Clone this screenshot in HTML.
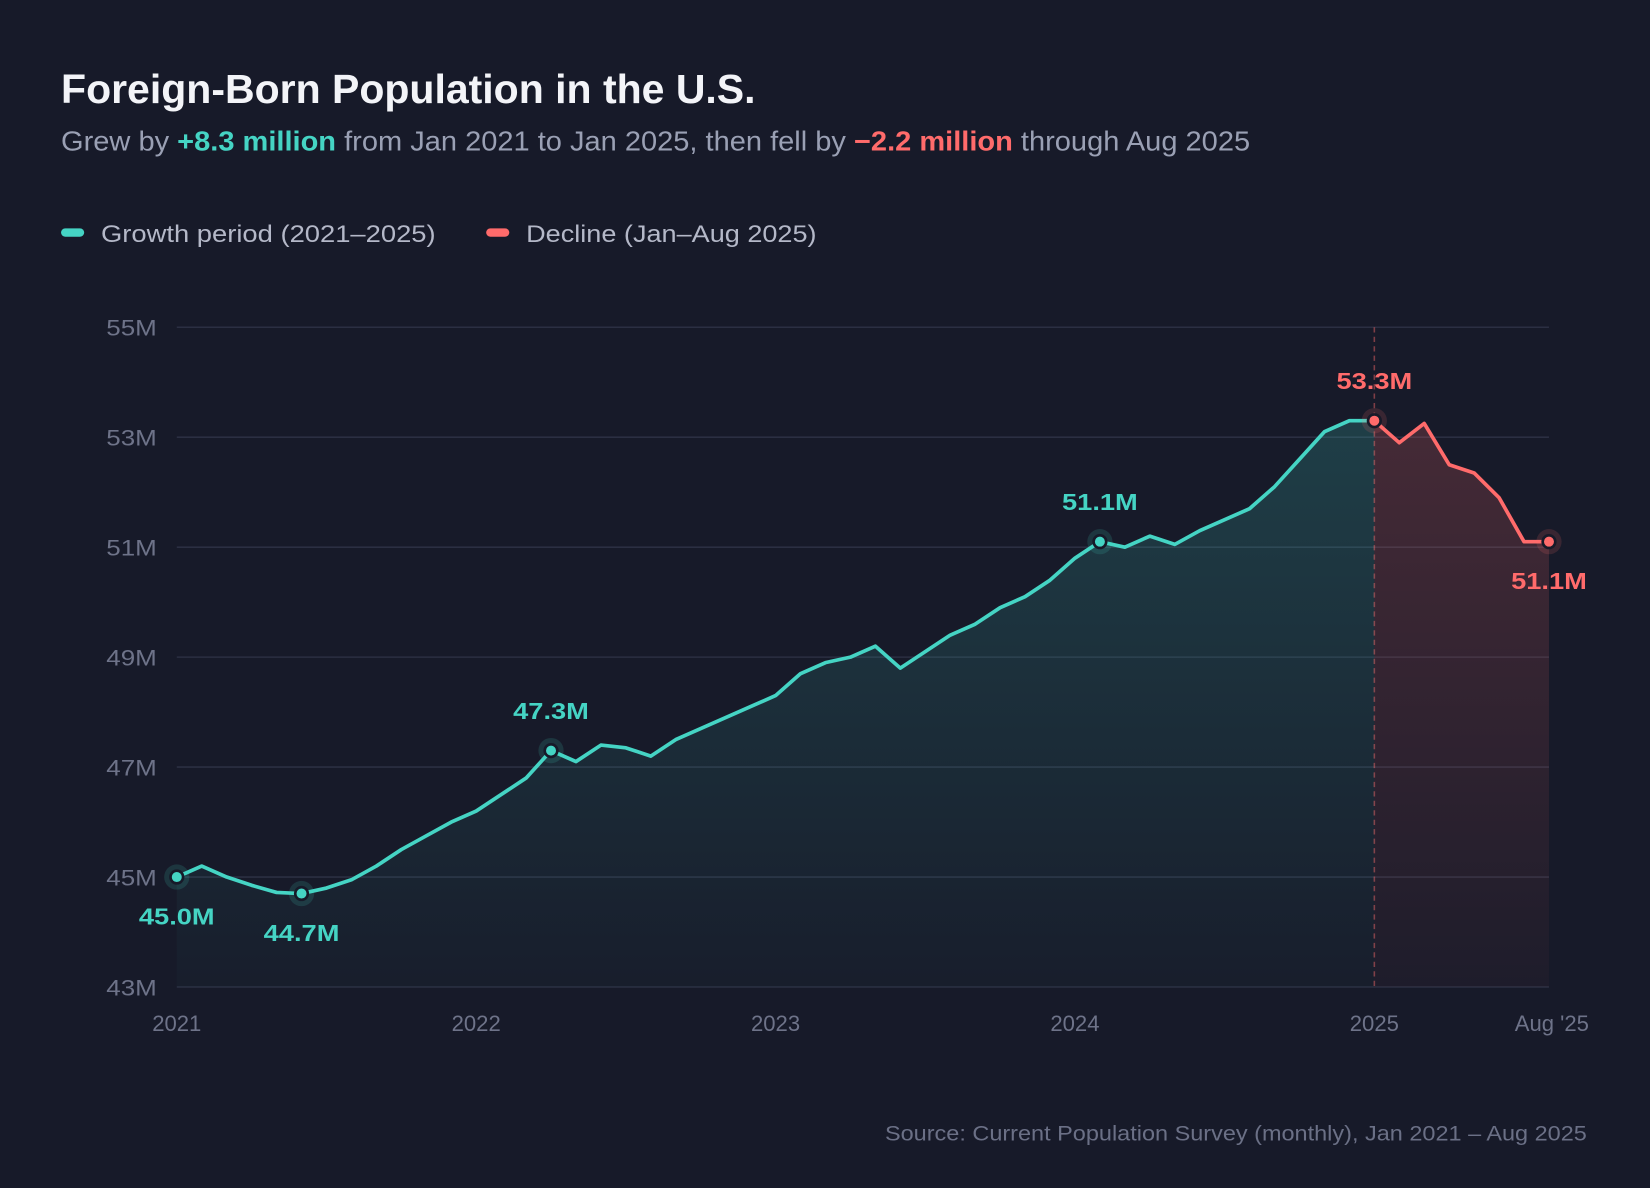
<!DOCTYPE html>
<html><head><meta charset="utf-8">
<style>
html,body{margin:0;padding:0;background:#171a29;}
svg{display:block;font-family:"Liberation Sans",sans-serif;}
</style></head>
<body>
<svg id="chart" width="1650" height="1188" viewBox="0 0 1568 1129" preserveAspectRatio="none">
<defs>
<linearGradient id="gG" x1="0" y1="0" x2="0" y2="1"><stop offset="0" stop-color="#3fd0c0" stop-opacity="0.2"/><stop offset="1" stop-color="#3fd0c0" stop-opacity="0.02"/></linearGradient>
<linearGradient id="gR" x1="0" y1="0" x2="0" y2="1"><stop offset="0" stop-color="#ff6b6b" stop-opacity="0.2"/><stop offset="1" stop-color="#ff6b6b" stop-opacity="0.03"/></linearGradient>
</defs>
<rect width="1568" height="1129" fill="#171a29"/>
<text x="58" y="98" font-size="39" font-weight="bold" fill="#f3f4f8" textLength="660" lengthAdjust="spacingAndGlyphs">Foreign-Born Population in the U.S.</text>
<text x="58" y="143" font-size="26" fill="#9aa0b4" textLength="1130" lengthAdjust="spacingAndGlyphs">Grew by <tspan fill="#45d4c4" font-weight="bold">+8.3 million</tspan> from Jan 2021 to Jan 2025, then fell by <tspan fill="#ff6b6b" font-weight="bold">−2.2 million</tspan> through Aug 2025</text>
<g>
<rect x="58" y="217" width="22" height="8" rx="4" fill="#45d4c4"/>
<text x="96" y="230" font-size="23" fill="#b4b8c8" textLength="318" lengthAdjust="spacingAndGlyphs">Growth period (2021–2025)</text>
<rect x="462" y="217" width="22" height="8" rx="4" fill="#ff6b6b"/>
<text x="500" y="230" font-size="23" fill="#b4b8c8" textLength="276" lengthAdjust="spacingAndGlyphs">Decline (Jan–Aug 2025)</text>
</g>
<g id="grid"></g><g id="areas"></g><g id="lines"></g><g id="marks"></g>
<text x="841" y="1084" font-size="20" fill="#6b7086" textLength="667" lengthAdjust="spacingAndGlyphs">Source: Current Population Survey (monthly), Jan 2021 – Aug 2025</text>
</svg>
<script>
const values=[45.0,45.2,45.0,44.85,44.72,44.7,44.8,44.95,45.2,45.5,45.75,46.0,46.2,46.5,46.8,47.3,47.1,47.4,47.35,47.2,47.5,47.7,47.9,48.1,48.3,48.7,48.9,49.0,49.2,48.8,49.1,49.4,49.6,49.9,50.1,50.4,50.8,51.1,51.0,51.2,51.05,51.3,51.5,51.7,52.1,52.6,53.1,53.3,53.3,52.9,53.25,52.5,52.35,51.9,51.1,51.1];
const splitIndex=48;
const yTicks=[43,45,47,49,51,53,55];
const yTickLabels=["43M","45M","47M","49M","51M","53M","55M"];
const xTickMonths=[0,12,24,36,48,55];
const xTickLabels=["2021","2022","2023","2024","2025","Aug '25"];
const annotated=[0,5,15,37,48,55];
const annotLabels=["45.0M","44.7M","47.3M","51.1M","53.3M","51.1M"];
const annotBelow=[true,true,false,false,false,true];

const X0=168,X1=1472,Y0=938,Y1=311;
const x=i=>X0+(X1-X0)*i/55;
const y=v=>Y0-(v-43)/(55-43)*(Y0-Y1);
const NS="http://www.w3.org/2000/svg";
function mk(tag,attrs,parent,txt){const e=document.createElementNS(NS,tag);for(const k in attrs)e.setAttribute(k,attrs[k]);if(txt!=null)e.textContent=txt;parent.appendChild(e);return e;}
const grid=document.getElementById('grid'),areas=document.getElementById('areas'),lines=document.getElementById('lines'),marks=document.getElementById('marks');
yTicks.forEach((t,k)=>{
 const l=mk('line',{x1:X0,x2:X1,y1:y(t),y2:y(t),stroke:"#2b2f42","stroke-width":1.5},grid);
 
 
 const tx=mk('text',{x:149,y:y(t)+8,"font-size":21,fill:"#6e7389","text-anchor":"end",textLength:48,lengthAdjust:"spacingAndGlyphs"},grid,yTickLabels[k]);
 
 
});
xTickMonths.forEach((m,k)=>{
 const last=k===xTickMonths.length-1;
 const tx=mk('text',{x:last?x(m)+38:x(m),y:980,"font-size":21,fill:"#6e7389","text-anchor":last?"end":"middle"},grid,xTickLabels[k]);
 
 
});
const vl=mk('line',{x1:x(splitIndex),x2:x(splitIndex),y1:Y1,y2:Y0,stroke:"#ff6b6b","stroke-opacity":0.45,"stroke-width":1.5,"stroke-dasharray":"5,4"},grid);


function pts(a,b){let s=[];for(let i=a;i<=b;i++)s.push(x(i)+","+y(values[i]));return s;}
const g=pts(0,splitIndex),r=pts(splitIndex,values.length-1);
const ga=mk('polygon',{points:g.join(" ")+` ${x(splitIndex)},${Y0} ${x(0)},${Y0}`,fill:"url(#gG)"},areas);


const ra=mk('polygon',{points:r.join(" ")+` ${x(values.length-1)},${Y0} ${x(splitIndex)},${Y0}`,fill:"url(#gR)"},areas);


const gl=mk('polyline',{points:g.join(" "),fill:"none",stroke:"#45d4c4","stroke-width":3.5,"stroke-linejoin":"round"},lines);


const rl=mk('polyline',{points:r.join(" "),fill:"none",stroke:"#ff6b6b","stroke-width":3.5,"stroke-linejoin":"round"},lines);


annotated.forEach((i,k)=>{
 const c=i>=splitIndex?"#ff6b6b":"#45d4c4";
 const cx=x(i),cy=y(values[i]);
 const h=mk('circle',{cx:cx,cy:cy,r:12,fill:c,"fill-opacity":0.15},marks);
 
 
 const p=mk('circle',{cx:cx,cy:cy,r:6,fill:c,stroke:"#171a29","stroke-width":2.5},marks);
 
 
 const t=mk('text',{x:cx-36,y:annotBelow[k]?cy+45:cy-30,"font-size":22,"font-weight":"bold",fill:c,textLength:72,lengthAdjust:"spacingAndGlyphs"},marks,annotLabels[k]);
 
 
});
</script>
</body></html>
